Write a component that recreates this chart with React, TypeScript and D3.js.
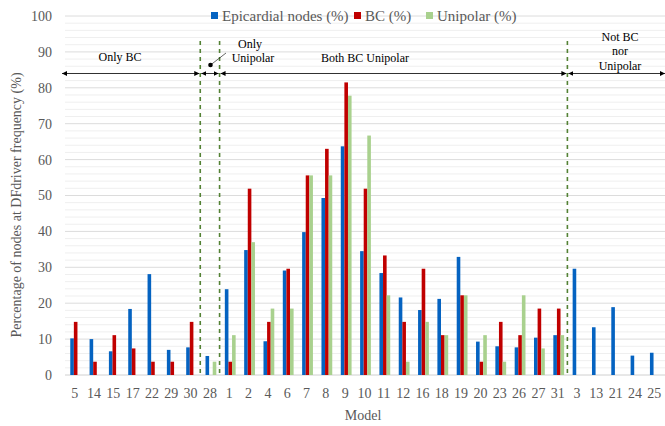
import * as d3 from "d3";

const models = ["5", "14", "15", "17", "22", "29", "30", "28", "1", "2", "4", "6", "7", "8", "9", "10", "11", "12", "16", "18", "19", "20", "23", "26", "27", "31", "3", "13", "21", "24", "25"];
const epicardial = [10.2, 10.0, 6.6, 18.4, 28.1, 7.0, 7.7, 5.3, 23.9, 34.8, 9.4, 29.1, 39.8, 49.3, 63.7, 34.5, 28.4, 21.6, 18.1, 21.2, 32.9, 9.3, 8.0, 7.7, 10.4, 11.1, 29.6, 13.3, 18.9, 5.4, 6.2];
const bc = [14.8, 3.7, 11.1, 7.4, 3.7, 3.7, 14.8, 0, 3.7, 51.9, 14.8, 29.6, 55.6, 63.0, 81.5, 51.9, 33.3, 14.8, 29.6, 11.1, 22.2, 3.7, 14.8, 11.1, 18.5, 18.5, 0, 0, 0, 0, 0];
const unipolar = [0, 0, 0, 0, 0, 0, 0, 3.7, 11.1, 37.0, 18.5, 18.5, 55.6, 55.6, 77.8, 66.7, 22.2, 3.7, 14.8, 11.1, 22.2, 11.1, 3.7, 22.2, 7.4, 11.1, 0, 0, 0, 0, 0];
const seriesNames = ["Epicardial nodes (%)", "BC (%)", "Unipolar (%)"];
const seriesColors = ["#0563C1", "#C00000", "#A9D18E"];
const yTicks = [0, 10, 20, 30, 40, 50, 60, 70, 80, 90, 100];
// group boundaries: after index 6 (30), after 7 (28), after 25 (31)
const dividers = [7, 8, 26];

const W = 665;
const H = 426;
const FONT = "'Liberation Serif', 'Times New Roman', serif";
const TEXT = "#595959";

export default function App() {
  const x = d3.scaleBand<string>().domain(models).range([65, 664]);
  const y = d3.scaleLinear().domain([0, 100]).range([375, 16]);
  const groupW = 10.8;
  const sub = d3.scaleBand<number>().domain([0, 1, 2]).range([0, groupW]);
  const bw = x.bandwidth();
  const values = [epicardial, bc, unipolar];
  const minor = d3.range(0, 101, 2).filter((v) => v % 10 !== 0);
  const divX = dividers.map((i) => 65 + i * bw);
  const arrowY = 73.5;
  const segs = [
    [62, divX[0]],
    [divX[0], divX[1]],
    [divX[1], divX[2]],
    [divX[2], 665],
  ];

  return (
    <svg width={W} height={H} style={{ position: "absolute", left: 0, top: 0, background: "#fff" }} fontFamily={FONT}>
      <defs>
        <marker id="ah" viewBox="0 0 10 10" refX="10" refY="5" markerWidth="5" markerHeight="5" orient="auto-start-reverse" markerUnits="userSpaceOnUse">
          <path d="M0,0 L10,5 L0,10 z" fill="#000" />
        </marker>
      </defs>
      {minor.map((v) => (
        <line key={"m" + v} x1={65} x2={665} y1={y(v)} y2={y(v)} stroke="#efefef" strokeWidth={1} />
      ))}
      {yTicks.map((v) => (
        <g key={"t" + v}>
          <line x1={65} x2={665} y1={y(v)} y2={y(v)} stroke={v === 0 ? "#d0d0d0" : "#dcdcdc"} strokeWidth={1} />
          <text x={52} y={y(v)} dy="0.35em" textAnchor="end" fontSize={14} fill={TEXT}>
            {v}
          </text>
        </g>
      ))}
      {models.map((m, i) => (
        <g key={"b" + m}>
          {values.map((vals, s) =>
            vals[i] > 0 ? (
              <rect
                key={s}
                x={(x(m) ?? 0) + (bw - groupW) / 2 + 1 + (sub(s) ?? 0)}
                y={y(vals[i])}
                width={sub.bandwidth()}
                height={y(0) - y(vals[i])}
                fill={seriesColors[s]}
              />
            ) : null,
          )}
          <text x={(x(m) ?? 0) + bw / 2} y={398} textAnchor="middle" fontSize={14} fill={TEXT}>
            {m}
          </text>
        </g>
      ))}
      {divX.map((dx, i) => (
        <line key={"d" + i} x1={dx} x2={dx} y1={41} y2={375} stroke="#548235" strokeWidth={1.6} strokeDasharray="4,4" />
      ))}
      {segs.map(([a, b], i) => (
        <line
          key={"s" + i}
          x1={a + (i === 0 ? 0 : 1)}
          x2={b - (i === 3 ? 0 : 1)}
          y1={arrowY}
          y2={arrowY}
          stroke="#000"
          strokeWidth={0.8}
          markerStart="url(#ah)"
          markerEnd="url(#ah)"
        />
      ))}
      <text x={120} y={61} textAnchor="middle" fontSize={12} fill="#000">Only BC</text>
      <text x={250} y={48} textAnchor="middle" fontSize={12} fill="#000">Only</text>
      <text x={253} y={62} textAnchor="middle" fontSize={12} fill="#000">Unipolar</text>
      <circle cx={210.5} cy={65} r={2.3} fill="#000" />
      <line x1={210.5} y1={65} x2={226} y2={53} stroke="#000" strokeWidth={0.6} />
      <text x={365} y={62} textAnchor="middle" fontSize={12} fill="#000">Both BC Unipolar</text>
      <text x={620} y={41} textAnchor="middle" fontSize={12} fill="#000">Not BC</text>
      <text x={620} y={55} textAnchor="middle" fontSize={12} fill="#000">nor</text>
      <text x={620} y={70} textAnchor="middle" fontSize={12} fill="#000">Unipolar</text>
      {[
        [211, 222],
        [354, 365],
        [426, 437],
      ].map(([sx, tx], i) => (
        <g key={"l" + i}>
          <rect x={sx} y={12} width={7} height={7} fill={seriesColors[i]} />
          <text x={tx} y={16} dy="0.35em" fontSize={15} fill={TEXT}>
            {seriesNames[i]}
          </text>
        </g>
      ))}
      <text x={363} y={420} textAnchor="middle" fontSize={14} fill={TEXT}>Model</text>
      <text transform="translate(21,205) rotate(-90)" textAnchor="middle" fontSize={14} fill={TEXT}>
        Percentage of nodes at DFdriver frequency (%)
      </text>
    </svg>
  );
}
